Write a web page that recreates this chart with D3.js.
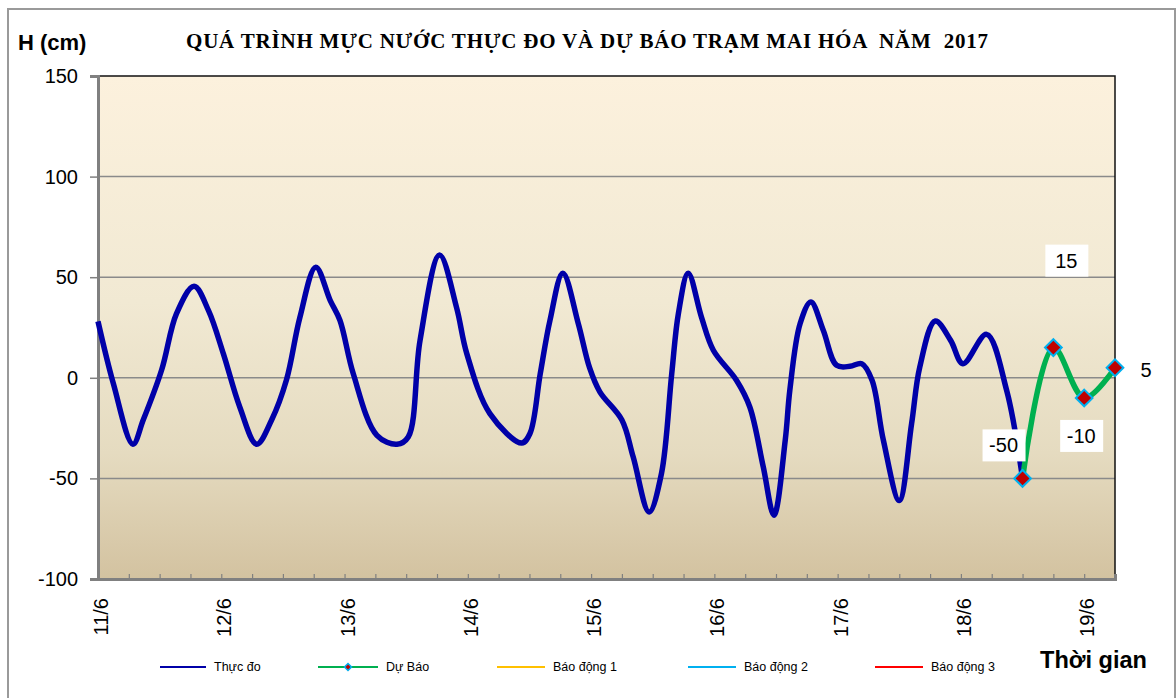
<!DOCTYPE html>
<meta charset="utf-8">
<script src="https://d3js.org/d3.v7.min.js"></script>
<style>
  body { margin: 0; background: #fff; }
</style>
<div id="chart"></div>
<script>
// observed water level (hours since 11/6 00h, cm)
var obsHours = [0, 3, 6.8, 8.8, 12.4, 15.3, 18.7, 21.5, 24.4, 27.6, 30.9, 33.8, 36.7, 39.3, 42.4, 45.2,
  47.1, 49.7, 54.3, 58.2, 60.4, 62.7, 66.5, 69.8, 71.8, 76.3, 82.5, 84.1, 86.1, 88, 90.5, 93.5,
  95.7, 97.7, 102, 104.2, 107.3, 109.7, 111.7, 113, 114.9, 117.5, 119.8, 124.3, 126.9, 129.5, 131.6,
  133.8, 134.7, 136.7, 138.8, 141.2, 143.8, 146.4, 148.7, 150.7, 152.9, 156, 158.4, 160, 163, 166,
  168.4, 173, 176.9, 180];
var obsLevel = [28, -3, -33, -21, 4, 32, 45.5, 33.5, 12, -14.5, -33, -21, -1, 30, 55, 38.5,
  28.6, 2, -28.6, -33, -29.4, 18.6, 61, 35, 12, -17.8, -32.4, -27.7, 2, 28.6, 52, 27,
  5, -7, -21, -39.4, -66.7, -47.6, 2, 32, 52, 30, 13.7, -1.2, -14.5, -44, -68.3,
  -31, -6, 27, 37.7, 23.6, 6.2, 5.7, 7, -1.2, -31, -61, -22.8, 5.4, 28.2, 18.6,
  7, 21.6, -6.2, -50];

// forecast
var fcHours = [180, 186, 192, 198];
var fcLevel = [-50, 15, -10, 5];

var yTicks = [-100, -50, 0, 50, 100, 150];
var dayLabels = ["11/6", "12/6", "13/6", "14/6", "15/6", "16/6", "17/6", "18/6", "19/6"];
var legendNames = ["Thực đo", "Dự Báo", "Báo động 1", "Báo động 2", "Báo động 3"];
var legendColors = ["#0000A8", "#00B050", "#FFC000", "#00B0F0", "#FF0000"];

var W = 1176, H = 698;
var plot = {left: 98, right: 1115, top: 76, bottom: 579};
var sans = "'Liberation Sans', Arial, sans-serif";

var svg = d3.select("#chart").append("svg")
  .attr("width", W).attr("height", H)
  .style("font-family", sans);

var defs = svg.append("defs");
var grad = defs.append("linearGradient").attr("id", "bg")
  .attr("x1", 0).attr("y1", 0).attr("x2", 0).attr("y2", 1);
grad.append("stop").attr("offset", "0%").attr("stop-color", "#FCF1DD");
grad.append("stop").attr("offset", "45%").attr("stop-color", "#F1E9D3");
grad.append("stop").attr("offset", "75%").attr("stop-color", "#E5DBC0");
grad.append("stop").attr("offset", "100%").attr("stop-color", "#D3C2A0");

// outer chart frame
svg.append("rect")
  .attr("x", 8).attr("y", 9).attr("width", W - 9).attr("height", H + 10)
  .attr("fill", "#fff").attr("stroke", "#9a9a9a").attr("stroke-width", 2);

var x = d3.scaleLinear().domain([0, 198]).range([plot.left, plot.right]);
var y = d3.scaleLinear().domain([-100, 150]).range([plot.bottom, plot.top]);

// plot background
svg.append("rect")
  .attr("x", plot.left).attr("y", plot.top)
  .attr("width", plot.right - plot.left).attr("height", plot.bottom - plot.top)
  .attr("fill", "url(#bg)");

// gridlines
svg.append("g").selectAll("line")
  .data(yTicks.filter(function(d) { return d > -100 && d < 150; }))
  .enter().append("line")
    .attr("x1", plot.left).attr("x2", plot.right)
    .attr("y1", function(d) { return y(d); }).attr("y2", function(d) { return y(d); })
    .attr("stroke", "#8a8a8a").attr("stroke-width", 1.5);

// top & right border of the plot
svg.append("path")
  .attr("d", "M" + plot.left + "," + plot.top + "H" + plot.right + "V" + plot.bottom)
  .attr("fill", "none").attr("stroke", "#111").attr("stroke-width", 1.5);

// y axis
var yAxis = svg.append("g")
  .attr("transform", "translate(" + plot.left + ",0)")
  .call(d3.axisLeft(y).tickValues(yTicks).tickSize(8).tickPadding(12)
    .tickFormat(function(d) { return String(d); }));
yAxis.select(".domain").attr("stroke", "#808080").attr("stroke-width", 3);
yAxis.selectAll(".tick line").attr("stroke", "#808080").attr("stroke-width", 1.5);
yAxis.selectAll("text").attr("fill", "#000")
  .style("font-size", "20px").style("font-family", sans);

// x axis: tick every 6 hours, label every day
var xAxis = svg.append("g")
  .attr("transform", "translate(0," + plot.bottom + ")")
  .call(d3.axisBottom(x).tickValues(d3.range(0, 199, 6)).tickSize(-5).tickFormat(""));
xAxis.select(".domain").attr("stroke", "#808080").attr("stroke-width", 3);
xAxis.selectAll(".tick line").attr("stroke", "#808080").attr("stroke-width", 1.2);

svg.append("g").selectAll("text")
  .data(dayLabels)
  .enter().append("text")
    .attr("transform", function(d, i) { return "translate(" + (x(i * 24) + 3) + "," + (plot.bottom + 19) + ")rotate(-90)"; })
    .attr("text-anchor", "end")
    .attr("dominant-baseline", "central")
    .style("font-size", "20px")
    .text(function(d) { return d; });

// lines
var line = d3.line()
  .x(function(d) { return x(d[0]); })
  .y(function(d) { return y(d[1]); })
  .curve(d3.curveCatmullRom.alpha(0.5));

svg.append("path")
  .datum(d3.zip(obsHours, obsLevel))
  .attr("d", line)
  .attr("fill", "none").attr("stroke", legendColors[0])
  .attr("stroke-width", 5.5).attr("stroke-linejoin", "round");

var fc = d3.zip(fcHours, fcLevel);
svg.append("path")
  .datum(fc)
  .attr("d", line)
  .attr("fill", "none").attr("stroke", legendColors[1])
  .attr("stroke-width", 5.5).attr("stroke-linejoin", "round");

// diamond markers = squares turned 45 degrees
var marker = d3.symbol().type(d3.symbolSquare).size(140);
svg.append("g").selectAll("path")
  .data(fc)
  .enter().append("path")
    .attr("d", marker)
    .attr("transform", function(d) { return "translate(" + x(d[0]) + "," + y(d[1]) + ")rotate(45)"; })
    .attr("fill", "#C00000").attr("stroke", "#00B0F0").attr("stroke-width", 2);

// data labels (manually placed in the original)
var labelOffsets = [[-19, -33], [13, -87], [-3, 38], [31, 2]];
var labels = svg.append("g").selectAll("g")
  .data(fc)
  .enter().append("g")
    .attr("transform", function(d, i) {
      return "translate(" + (x(d[0]) + labelOffsets[i][0]) + "," + (y(d[1]) + labelOffsets[i][1]) + ")";
    });
labels.append("rect")
  .attr("x", -21).attr("y", -16).attr("width", 43).attr("height", 32)
  .attr("fill", "#fff");
labels.append("text")
  .attr("text-anchor", "middle").attr("dominant-baseline", "central")
  .style("font-size", "20px")
  .text(function(d) { return d[1]; });

// titles
svg.append("text")
  .attr("x", 186).attr("y", 48)
  .attr("textLength", 802).attr("lengthAdjust", "spacing")
  .style("font-family", "'Liberation Serif', 'Times New Roman', serif")
  .style("font-weight", "bold").style("font-size", "21px")
  .style("white-space", "pre")
  .text("QUÁ TRÌNH MỰC NƯỚC THỰC ĐO VÀ DỰ BÁO TRẠM MAI HÓA  NĂM  2017");

svg.append("text")
  .attr("x", 18).attr("y", 50)
  .style("font-weight", "bold").style("font-size", "22px")
  .text("H (cm)");

svg.append("text")
  .attr("x", 1040).attr("y", 668)
  .attr("textLength", 107).attr("lengthAdjust", "spacingAndGlyphs")
  .style("font-weight", "bold").style("font-size", "23px")
  .text("Thời gian");

// legend
var legendX = [160, 318, 497, 688, 875];
var legendW = [46, 60, 48, 48, 48];
var lg = svg.append("g").selectAll("g")
  .data(legendNames)
  .enter().append("g")
    .attr("transform", function(d, i) { return "translate(" + legendX[i] + ",667)"; });
lg.append("line")
  .attr("x1", 0).attr("x2", function(d, i) { return legendW[i]; })
  .attr("stroke", function(d, i) { return legendColors[i]; })
  .attr("stroke-width", 2);
lg.filter(function(d, i) { return i === 1; }).append("path")
  .attr("d", d3.symbol().type(d3.symbolSquare).size(25))
  .attr("transform", "translate(30,0)rotate(45)")
  .attr("fill", "#C00000").attr("stroke", "#00B0F0").attr("stroke-width", 1.5);
lg.append("text")
  .attr("x", function(d, i) { return legendW[i] + 8; })
  .attr("y", 0)
  .attr("dominant-baseline", "central")
  .style("font-size", "12.5px")
  .text(function(d) { return d; });
</script>
